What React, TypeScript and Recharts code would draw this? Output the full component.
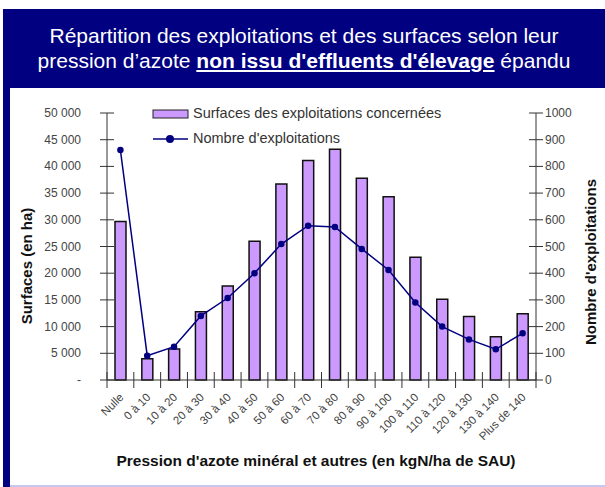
import { ComposedChart, Bar, Line, XAxis, YAxis, Legend } from "recharts";

const categories = [
  "Nulle", "0 à 10", "10 à 20", "20 à 30", "30 à 40", "40 à 50", "50 à 60", "60 à 70",
  "70 à 80", "80 à 90", "90 à 100", "100 à 110", "110 à 120", "120 à 130", "130 à 140", "Plus de 140",
];
const surfaces = [29700, 4000, 5800, 12800, 17600, 26000, 36700, 41100, 43200, 37800, 34300, 23000, 15100, 11900, 8100, 12400];
const exploitations = [861, 91, 125, 240, 307, 400, 509, 578, 573, 491, 412, 290, 200, 152, 115, 175];
const leftTicks = [0, 5000, 10000, 15000, 20000, 25000, 30000, 35000, 40000, 45000, 50000];
const rightTicks = [0, 100, 200, 300, 400, 500, 600, 700, 800, 900, 1000];

const data = categories.map((c, i) => ({ name: c, surf: surfaces[i], nb: exploitations[i] }));

const NAVY = "#000080";
const BAR = "#cc99ff";
const AXIS = "#333";
const FONT = '"Liberation Sans", Arial, sans-serif';
const PLOT_W = 536 - 107;
const BAND = PLOT_W / categories.length;

const fmt = (v: number) => (v === 0 ? "-" : v.toString().replace(/\B(?=(\d{3})+(?!\d))/g, " "));

const LeftTick = (props: any) => {
  const { x, y, payload } = props;
  const ax = x + 26;
  return (
    <g>
      <line x1={ax - 7} x2={ax + 7} y1={y} y2={y} stroke={AXIS} />
      <text x={x} y={y} dy={4} textAnchor="end" fontSize={12} fill="#444" fontFamily={FONT}>
        {fmt(payload.value)}
      </text>
    </g>
  );
};

const RightTick = (props: any) => {
  const { x, y, payload } = props;
  const ax = x - 9;
  return (
    <g>
      <line x1={ax - 7} x2={ax + 7} y1={y} y2={y} stroke={AXIS} />
      <text x={x} y={y} dy={4} textAnchor="start" fontSize={12} fill="#444" fontFamily={FONT}>
        {payload.value}
      </text>
    </g>
  );
};

const BottomTick = (props: any) => {
  const { x, y, payload, index } = props;
  const ay = y - 8;
  const last = index === categories.length - 1;
  const tx = x + 4;
  const ty = ay + 18;
  return (
    <g>
      <line x1={x - BAND / 2} x2={x - BAND / 2} y1={ay - 8} y2={ay + 8} stroke={AXIS} />
      {last && <line x1={x + BAND / 2} x2={x + BAND / 2} y1={ay - 8} y2={ay + 8} stroke={AXIS} />}
      <text
        x={tx}
        y={ty}
        textAnchor="end"
        fontSize={11.5}
        fill="#444"
        fontFamily={FONT}
        transform={`rotate(-45 ${tx} ${ty})`}
      >
        {payload.value}
      </text>
    </g>
  );
};

const LegendBox = () => (
  <div style={{ fontFamily: FONT, fontSize: 14.5, color: "#333", lineHeight: "25px" }}>
    <div style={{ display: "flex", alignItems: "center" }}>
      <svg width={41} height={12}>
        <rect x={1} y={2} width={35} height={8} fill={BAR} stroke="#222" />
      </svg>
      <span>Surfaces des exploitations concernées</span>
    </div>
    <div style={{ display: "flex", alignItems: "center" }}>
      <svg width={41} height={12}>
        <line x1={1} x2={36} y1={6} y2={6} stroke={NAVY} strokeWidth={1.5} />
        <circle cx={18} cy={6} r={4} fill={NAVY} />
      </svg>
      <span>Nombre d'exploitations</span>
    </div>
  </div>
);

export default function App() {
  return (
    <div style={{ position: "absolute", left: 0, top: 0, width: 605, height: 487, background: "#fff", overflow: "hidden", fontFamily: FONT }}>
      <div
        style={{
          position: "absolute", left: 3, top: 9, width: 602, height: 79, background: NAVY, color: "#fff",
          fontSize: 21, lineHeight: "25px", textAlign: "center", paddingTop: 14, boxSizing: "border-box",
        }}
      >
        <div>Répartition des exploitations et des surfaces selon leur</div>
        <div>
          pression d’azote <b><u>non issu d'effluents d'élevage</u></b> épandu
        </div>
      </div>
      <div style={{ position: "absolute", left: 3, top: 88, width: 7, height: 399, background: NAVY }} />
      <div style={{ position: "absolute", left: 10, top: 485, width: 595, height: 2, background: "#c8c8ee" }} />

      <div style={{ position: "absolute", left: 0, top: 0 }}>
        <ComposedChart width={605} height={487} data={data} margin={{ top: 113, right: 9, bottom: 47, left: 37 }}>
          <XAxis
            dataKey="name"
            height={60}
            axisLine={{ stroke: AXIS }}
            tickLine={false}
            tickSize={0}
            tickMargin={8}
            interval={0}
            tick={<BottomTick />}
          />
          <YAxis
            yAxisId="left"
            width={70}
            domain={[0, 50000]}
            ticks={leftTicks}
            interval={0}
            axisLine={{ stroke: AXIS }}
            tickLine={false}
            tickSize={6}
            tickMargin={20}
            tick={<LeftTick />}
          />
          <YAxis
            yAxisId="right"
            orientation="right"
            width={60}
            domain={[0, 1000]}
            ticks={rightTicks}
            interval={0}
            axisLine={{ stroke: AXIS }}
            tickLine={false}
            tickSize={6}
            tickMargin={3}
            tick={<RightTick />}
          />
          <Legend
            layout="horizontal"
            verticalAlign="middle"
            align="center"
            wrapperStyle={{ left: 152, top: 101, width: 330 }}
            content={<LegendBox />}
          />
          <Bar yAxisId="left" dataKey="surf" barSize={11} fill={BAR} stroke="#111" strokeWidth={1.5} isAnimationActive={false} />
          <Line
            yAxisId="right"
            dataKey="nb"
            type="linear"
            stroke={NAVY}
            strokeWidth={1.5}
            dot={{ r: 2.5, fill: NAVY, stroke: NAVY }}
            activeDot={false}
            isAnimationActive={false}
          />
        </ComposedChart>
      </div>

      <div style={{ position: "absolute", left: 26, top: 266, transform: "translate(-50%, -50%) rotate(-90deg)", whiteSpace: "nowrap", fontWeight: "bold", fontSize: 15, color: "#111" }}>
        Surfaces (en ha)
      </div>
      <div style={{ position: "absolute", left: 590, top: 262, transform: "translate(-50%, -50%) rotate(-90deg)", whiteSpace: "nowrap", fontWeight: "bold", fontSize: 15, color: "#111" }}>
        Nombre d'exploitations
      </div>
      <div style={{ position: "absolute", left: 316, top: 461, transform: "translate(-50%, -50%)", whiteSpace: "nowrap", fontWeight: "bold", fontSize: 15.5, color: "#111" }}>
        Pression d'azote minéral et autres (en kgN/ha de SAU)
      </div>
    </div>
  );
}
